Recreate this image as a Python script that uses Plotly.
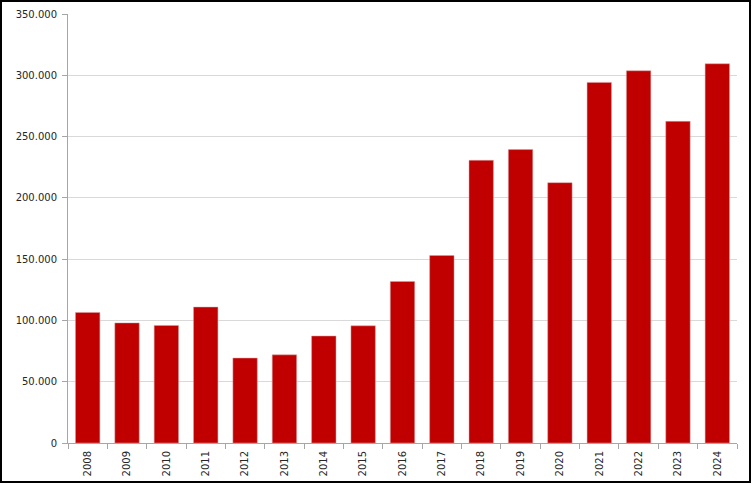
import plotly.graph_objects as go

years = [str(y) for y in range(2008, 2025)]
values = [106500, 98000, 95900, 110900, 69300, 71900, 87300, 95600, 131800,
          153000, 230600, 239400, 212400, 294200, 303700, 262400, 309400]
y_ticks = [0, 50000, 100000, 150000, 200000, 250000, 300000, 350000]

W, H = 752, 484
L, R, T, B = 68, 15, 14, 41
pw, ph = W - L - R, H - T - B

def px_x(p):
    return (p - L) / pw

def px_y(p):
    return (H - B - p) / ph

fig = go.Figure(go.Bar(
    x=years, y=values,
    marker=dict(color="#C00000", line=dict(color="#D9A0A0", width=0.5)),
))

fig.update_layout(
    width=W, height=H,
    margin=dict(l=L, r=R, t=T, b=B, autoexpand=False),
    paper_bgcolor="white", plot_bgcolor="white",
    separators=",.",
    bargap=0.38,
    showlegend=False,
    font=dict(family="DejaVu Sans", size=10, color="#262626"),
    xaxis=dict(
        type="category", tickangle=-90, showgrid=False, automargin=False,
        showline=True, linecolor="#A6A6A6", linewidth=1,
        ticks="outside", tickson="boundaries", ticklen=5, tickcolor="#A6A6A6",
        tickfont=dict(size=10), ticklabelstandoff=3,
    ),
    yaxis=dict(
        range=[0, 350000], tickvals=y_ticks, tickformat=",d", automargin=False,
        showgrid=True, gridcolor="#D9D9D9", gridwidth=1,
        showline=True, linecolor="#A6A6A6", linewidth=1,
        ticks="outside", ticklen=5, tickcolor="#A6A6A6",
        tickfont=dict(size=10), zeroline=False, ticklabelstandoff=3,
    ),
    shapes=[dict(
        type="rect", xref="paper", yref="paper",
        x0=px_x(1), x1=px_x(W - 2), y0=px_y(H - 2), y1=px_y(1),
        line=dict(color="#000000", width=2), fillcolor="rgba(0,0,0,0)", layer="above",
    )],
)

fig.write_html("out.html")
